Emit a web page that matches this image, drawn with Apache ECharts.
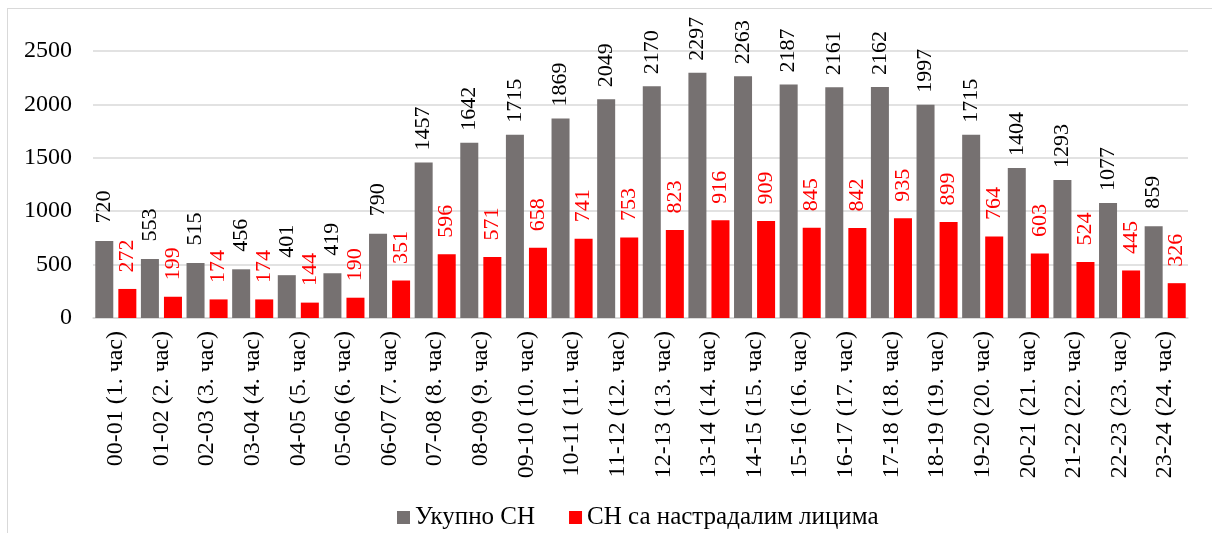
<!DOCTYPE html>
<html>
<head>
<meta charset="utf-8">
<script src="https://cdn.jsdelivr.net/npm/echarts@6/dist/echarts.min.js"></script>
<style>
html,body{margin:0;padding:0;background:#fff;}
#frame{position:absolute;left:7px;top:8px;width:1300px;height:600px;border-top:1.5px solid #d9d9d9;border-left:1.5px solid #d9d9d9;}
#chart{position:absolute;left:0;top:0;width:1212px;height:533px;}
</style>
</head>
<body>
<div id="frame"></div>
<div id="chart"></div>
<script>
const categories = ["00-01 (1. час)","01-02 (2. час)","02-03 (3. час)","03-04 (4. час)","04-05 (5. час)","05-06 (6. час)","06-07 (7. час)","07-08 (8. час)","08-09 (9. час)","09-10 (10. час)","10-11 (11. час)","11-12 (12. час)","12-13 (13. час)","13-14 (14. час)","14-15 (15. час)","15-16 (16. час)","16-17 (17. час)","17-18 (18. час)","18-19 (19. час)","19-20 (20. час)","20-21 (21. час)","21-22 (22. час)","22-23 (23. час)","23-24 (24. час)"];
const totalValues = [720,553,515,456,401,419,790,1457,1642,1715,1869,2049,2170,2297,2263,2187,2161,2162,1997,1715,1404,1293,1077,859];
const injuredValues = [272,199,174,174,144,190,351,596,571,658,741,753,823,916,909,845,842,935,899,764,603,524,445,326];
const seriesNames = ["Укупно СН","СН са настрадалим лицима"];

const font = "'Liberation Serif','Times New Roman',serif";
const chart = echarts.init(document.getElementById('chart'), null, {renderer:'canvas'});
chart.setOption({
  animation:false,
  textStyle:{fontFamily:font},
  grid:{left:93,right:24,top:51,bottom:215,containLabel:false},
  legend:{
    top:500,left:392,
    itemWidth:13,itemHeight:13,itemGap:34,
    icon:'rect',
    textStyle:{fontFamily:font,fontSize:25,color:'#000'},
    data:seriesNames
  },
  xAxis:{
    type:'category',data:categories,
    axisLine:{lineStyle:{color:'#d9d9d9',width:1.5}},
    axisTick:{show:false},
    axisLabel:{rotate:90,interval:0,fontFamily:font,fontSize:24,color:'#000',margin:13}
  },
  yAxis:{
    type:'value',min:0,max:2500,interval:500,
    axisLine:{show:false},axisTick:{show:false},
    splitLine:{lineStyle:{color:'#d9d9d9',width:1.5}},
    axisLabel:{fontFamily:font,fontSize:24,color:'#000',margin:21,formatter:function(v){return String(v);}}
  },
  series:[
    {name:seriesNames[0],type:'bar',data:totalValues,barGap:'28%',barCategoryGap:'10%',
     itemStyle:{color:'#767171'},
     label:{show:true,position:'top',rotate:90,align:'center',verticalAlign:'middle',distance:34,
       fontFamily:font,fontSize:22,color:'#000'}},
    {name:seriesNames[1],type:'bar',data:injuredValues,
     itemStyle:{color:'#ff0000'},
     label:{show:true,position:'top',rotate:90,align:'center',verticalAlign:'middle',distance:33,
       fontFamily:font,fontSize:22,color:'#ff0000'}}
  ]
});
</script>
</body>
</html>
